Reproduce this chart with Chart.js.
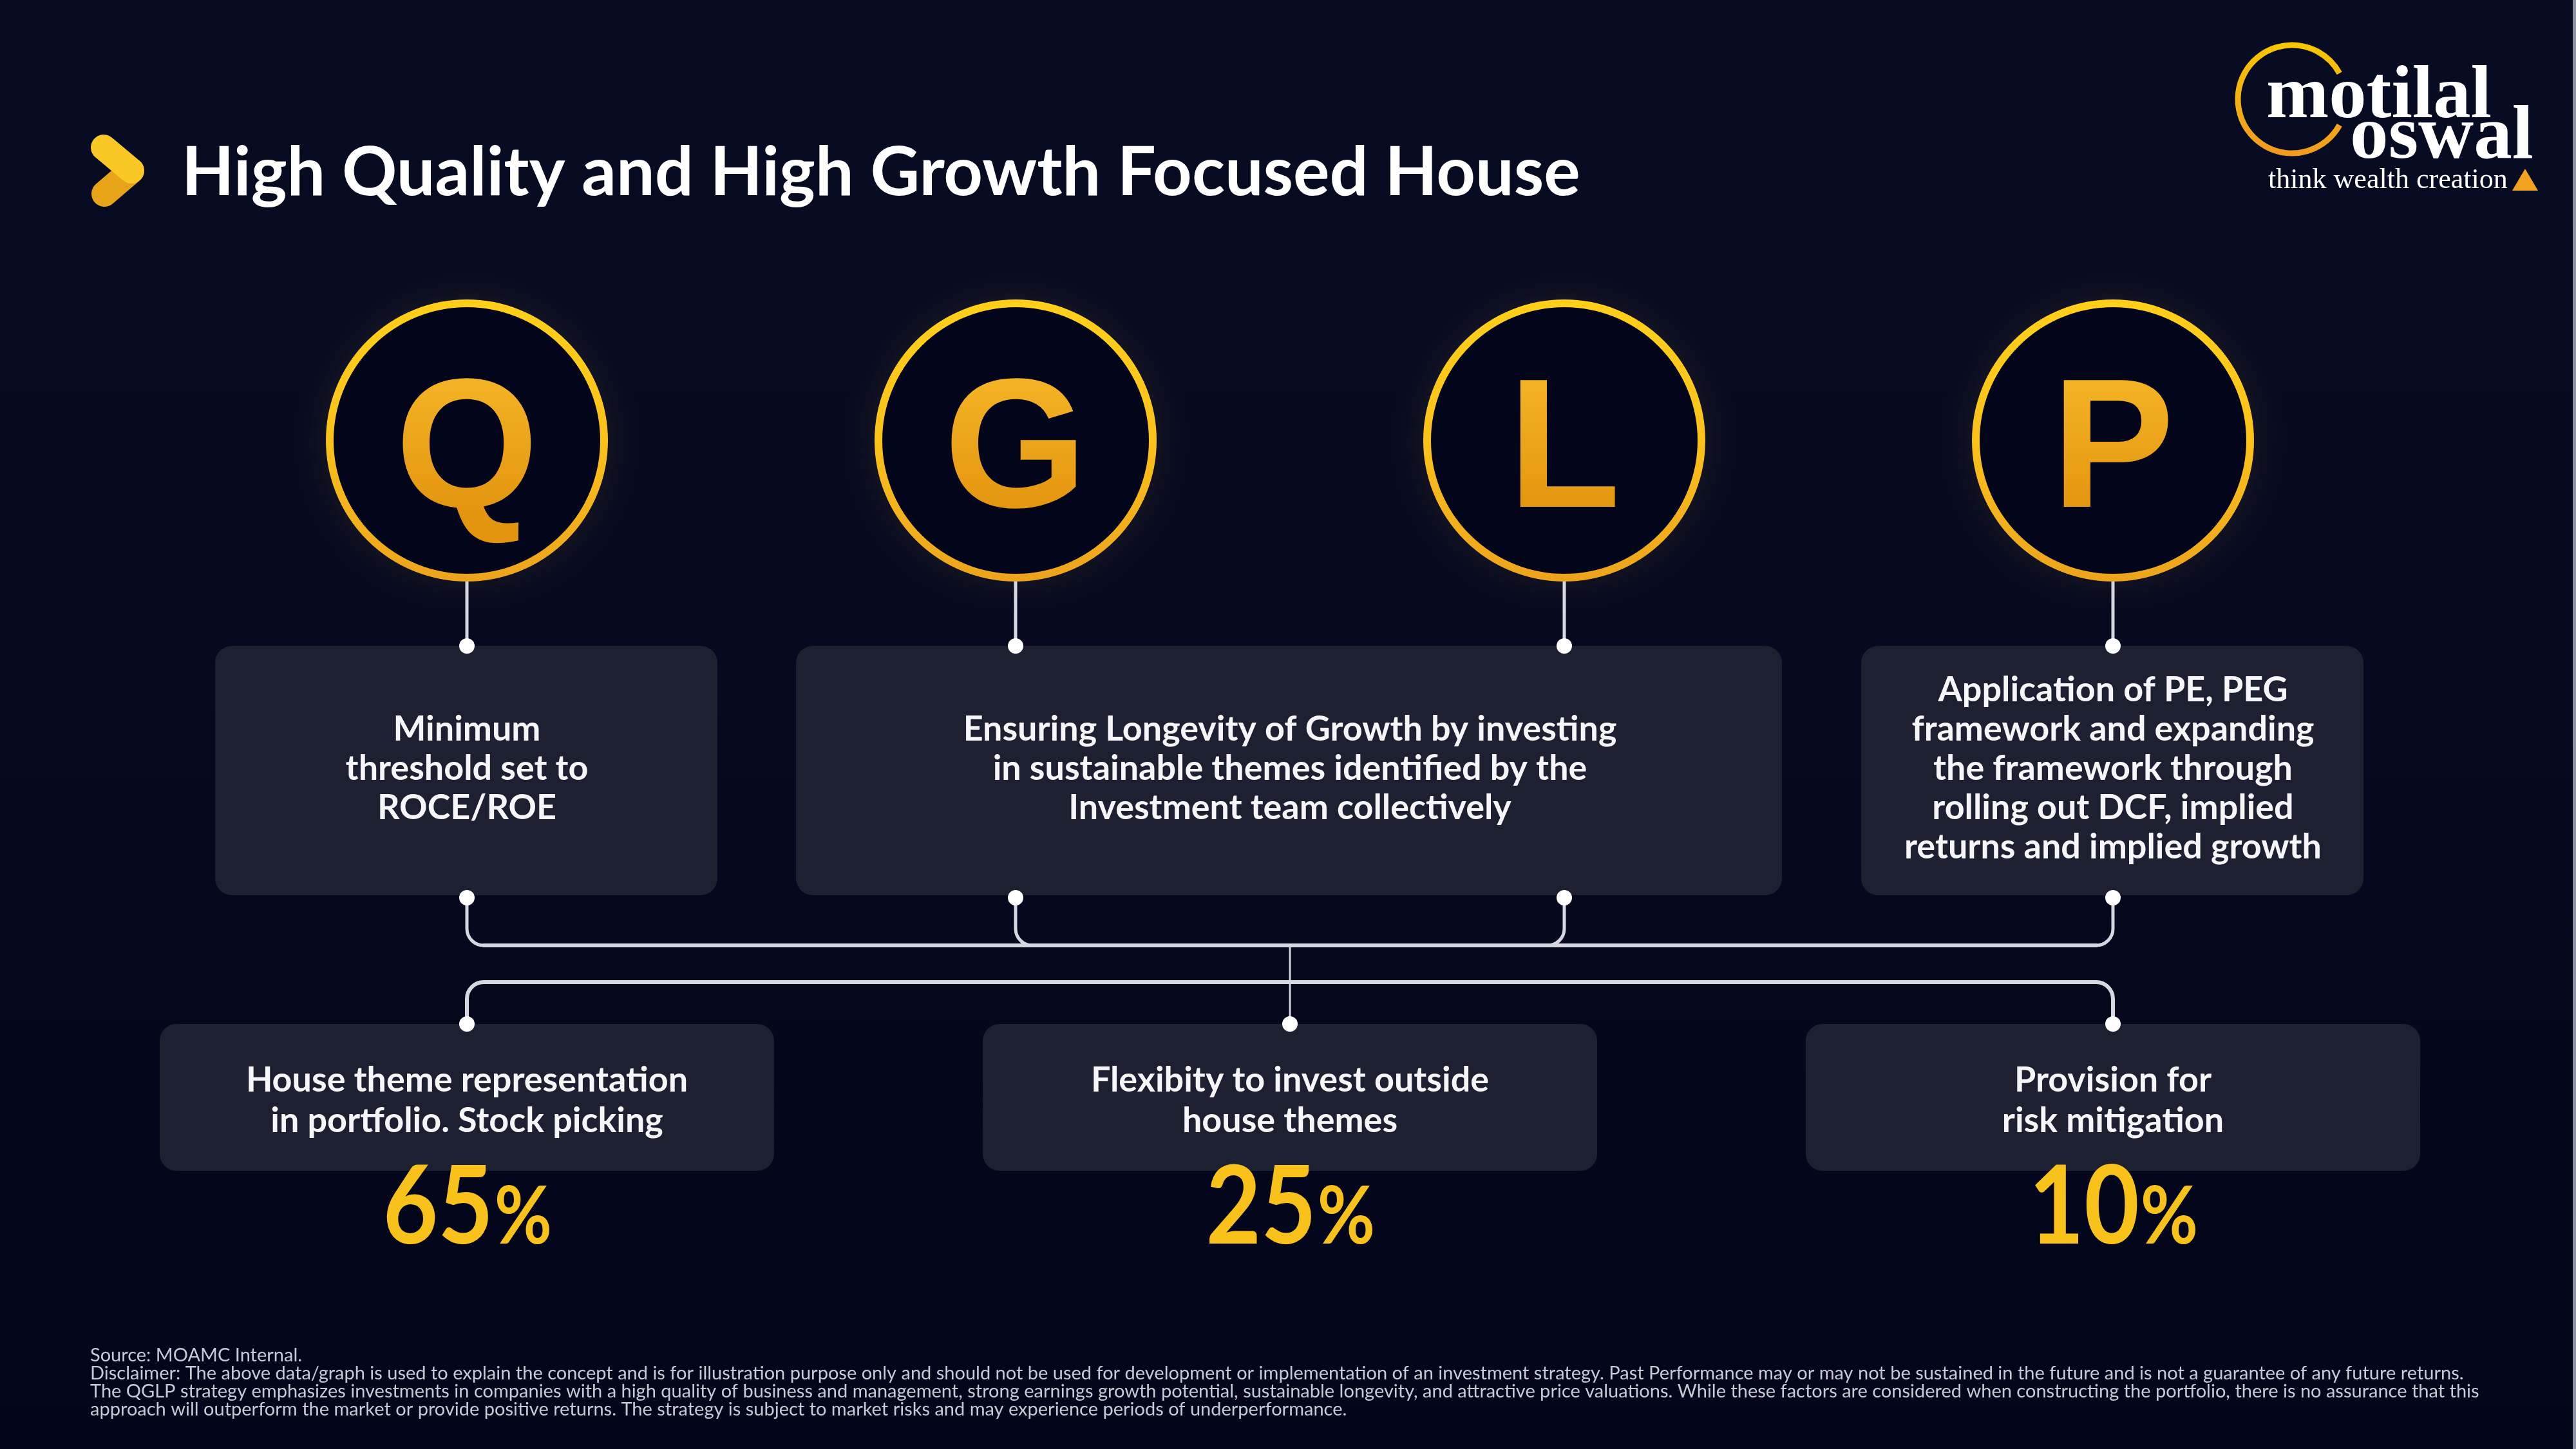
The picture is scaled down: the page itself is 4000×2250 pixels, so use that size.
<!DOCTYPE html>
<html><head><meta charset="utf-8">
<script src="https://cdn.jsdelivr.net/npm/chart.js@4.4.1/dist/chart.umd.min.js"></script>
<style>html,body{margin:0;padding:0;background:#04071a;overflow:hidden}canvas{display:block}</style>
</head><body>
<canvas id="c" width="4000" height="2250"></canvas>
<script>
// ---------- data ----------
const titleText = 'High Quality and High Growth Focused House';
const pillarLetters = ['Q', 'G', 'L', 'P'];
const pillarGroups = [[0], [1, 2], [3]];
const pillarNotes = [
  ['Minimum', 'threshold set to', 'ROCE/ROE'],
  ['Ensuring Longevity of Growth by investing', 'in sustainable themes identified by the', 'Investment team collectively'],
  ['Application of PE, PEG', 'framework and expanding', 'the framework through', 'rolling out DCF, implied', 'returns and implied growth']
];
const allocationLabels = [
  ['House theme representation', 'in portfolio. Stock picking'],
  ['Flexibity to invest outside', 'house themes'],
  ['Provision for', 'risk mitigation']
];
const allocationValues = [65, 25, 10];
const footnotes = [
  'Source: MOAMC Internal.',
  'Disclaimer: The above data/graph is used to explain the concept and is for illustration purpose only and should not be used for development or implementation of an investment strategy. Past Performance may or may not be sustained in the future and is not a guarantee of any future returns.',
  'The QGLP strategy emphasizes investments in companies with a high quality of business and management, strong earnings growth potential, sustainable longevity, and attractive price valuations. While these factors are considered when constructing the portfolio, there is no assurance that this',
  'approach will outperform the market or provide positive returns. The strategy is subject to market risks and may experience periods of underperformance.'
];

// ---------- layout ----------
const W = 4000, H = 2250;
const X0 = 725, STEP = 852;      // pixel of first pillar, pixel spacing between pillars
const RING_Y = 684, RING_R = 213;
const BOX_TOP = 1003, BOX_BOT = 1390;
const BUS1 = 1468, BUS2 = 1525, LOW_TOP = 1590, LOW_BOT = 1818;
const CORNER = 26;
const SANS = 'Lato, "Open Sans", sans-serif';

function rr(ctx, x, y, w, h, r) {
  ctx.beginPath();
  ctx.moveTo(x + r, y); ctx.lineTo(x + w - r, y); ctx.arcTo(x + w, y, x + w, y + r, r);
  ctx.lineTo(x + w, y + h - r); ctx.arcTo(x + w, y + h, x + w - r, y + h, r);
  ctx.lineTo(x + r, y + h); ctx.arcTo(x, y + h, x, y + h - r, r);
  ctx.lineTo(x, y + r); ctx.arcTo(x, y, x + r, y, r); ctx.closePath();
}
function fit(ctx, text, font, target) {
  ctx.font = font.replace('SIZE', '100px');
  return 100 * target / ctx.measureText(text).width;
}

const infographic = {
  id: 'infographic',
  beforeDraw(chart) {
    const ctx = chart.ctx;
    const g = ctx.createLinearGradient(0, 0, 0, H);
    g.addColorStop(0, '#080c23'); g.addColorStop(1, '#03051a');
    ctx.save(); ctx.fillStyle = g; ctx.fillRect(0, 0, W, H);
    ctx.fillStyle = '#8d93a3'; ctx.fillRect(W - 5, 0, 5, H);
    ctx.restore();
  },
  beforeDatasetsDraw(chart) {
    const ctx = chart.ctx, xs = chart.scales.x, ys = chart.scales.y;
    const px = i => xs.getPixelForValue(i);
    const ringY = ys.getPixelForValue(RING_Y);
    ctx.save();
    // title icon
    ctx.lineCap = 'round'; ctx.lineJoin = 'round'; ctx.lineWidth = 40;
    ctx.strokeStyle = '#e8a419';
    ctx.beginPath(); ctx.moveTo(204, 265); ctx.lineTo(162, 301); ctx.stroke();
    ctx.strokeStyle = '#fac825';
    ctx.beginPath(); ctx.moveTo(161, 229); ctx.lineTo(204, 265); ctx.stroke();
    // title
    const ts = fit(ctx, titleText, `bold SIZE ${SANS}`, 2172);
    ctx.font = `bold ${ts}px ${SANS}`;
    ctx.fillStyle = '#ffffff'; ctx.textAlign = 'left'; ctx.textBaseline = 'alphabetic';
    ctx.fillText(titleText, 282, 303);
    // logo
    const lg = ctx.createLinearGradient(0, 70, 0, 240);
    lg.addColorStop(0, '#f8c600'); lg.addColorStop(1, '#f29a1f');
    ctx.strokeStyle = lg; ctx.lineWidth = 9; ctx.lineCap = 'butt';
    ctx.beginPath(); ctx.arc(3559, 154, 84, 0.5, Math.PI * 2 - 0.5); ctx.stroke();
    ctx.fillStyle = '#ffffff';
    const SERIF = '"Liberation Serif", "DejaVu Serif", serif';
    let s = fit(ctx, 'motilal', `bold SIZE ${SERIF}`, 350);
    ctx.font = `bold ${s}px ${SERIF}`; ctx.fillText('motilal', 3519, 182);
    s = fit(ctx, 'oswal', `bold SIZE ${SERIF}`, 285);
    ctx.font = `bold ${s}px ${SERIF}`; ctx.fillText('oswal', 3649, 245);
    s = fit(ctx, 'think wealth creation', `SIZE ${SERIF}`, 372);
    ctx.font = `${s}px ${SERIF}`; ctx.fillText('think wealth creation', 3522, 292);
    ctx.fillStyle = '#f2a21f';
    ctx.beginPath(); ctx.moveTo(3901, 296); ctx.lineTo(3921, 262); ctx.lineTo(3941, 296); ctx.closePath(); ctx.fill();
    // ring glow
    pillarLetters.forEach((l, i) => {
      ctx.save(); ctx.shadowColor = 'rgba(245,180,30,0.45)'; ctx.shadowBlur = 40;
      ctx.strokeStyle = 'rgba(245,185,30,0.6)'; ctx.lineWidth = 8;
      ctx.beginPath(); ctx.arc(px(i), ringY, RING_R, 0, Math.PI * 2); ctx.stroke(); ctx.restore();
    });
    // connectors
    ctx.strokeStyle = '#d5d8e0'; ctx.lineWidth = 5; ctx.lineCap = 'round';
    pillarLetters.forEach((l, i) => {
      ctx.beginPath(); ctx.moveTo(px(i), ringY + RING_R); ctx.lineTo(px(i), BOX_TOP); ctx.stroke();
    });
    const last = pillarLetters.length - 1;
    const mid = (px(0) + px(last)) / 2;
    pillarLetters.forEach((l, i) => {
      const x = px(i), dir = x < mid ? 1 : -1;
      ctx.beginPath(); ctx.moveTo(x, BOX_BOT); ctx.lineTo(x, BUS1 - CORNER);
      ctx.arcTo(x, BUS1, x + dir * CORNER, BUS1, CORNER); ctx.stroke();
    });
    ctx.lineWidth = 6;
    ctx.beginPath(); ctx.moveTo(px(0) + CORNER, BUS1); ctx.lineTo(px(last) - CORNER, BUS1); ctx.stroke();
    ctx.beginPath(); ctx.moveTo(px(0), LOW_TOP); ctx.lineTo(px(0), BUS2 + CORNER);
    ctx.arcTo(px(0), BUS2, px(0) + CORNER, BUS2, CORNER); ctx.lineTo(px(last) - CORNER, BUS2);
    ctx.arcTo(px(last), BUS2, px(last), BUS2 + CORNER, CORNER); ctx.lineTo(px(last), LOW_TOP); ctx.stroke();
    ctx.lineWidth = 3;
    ctx.beginPath(); ctx.moveTo(mid, BUS1); ctx.lineTo(mid, LOW_TOP); ctx.stroke();
    // top boxes
    ctx.fillStyle = '#1c2030';
    pillarGroups.forEach(g => {
      const pad = g.length > 1 ? 341 : 391;
      const l = px(g[0]) - pad, r = px(g[g.length - 1]) + (g.length > 1 ? 338 : 389);
      rr(ctx, l, BOX_TOP, r - l, BOX_BOT - BOX_TOP, 26); ctx.fill();
    });
    // bottom boxes
    allocationValues.forEach((v, k) => {
      const x = xs.getPixelForValue(k * last / (allocationValues.length - 1));
      rr(ctx, x - 477, LOW_TOP, 954, LOW_BOT - LOW_TOP, 26); ctx.fill();
    });
    ctx.restore();
  },
  afterDatasetsDraw(chart) {
    const ctx = chart.ctx, xs = chart.scales.x, ys = chart.scales.y;
    const px = i => xs.getPixelForValue(i);
    const ringY = ys.getPixelForValue(RING_Y);
    const last = pillarLetters.length - 1;
    ctx.save();
    // letters
    ctx.textAlign = 'center'; ctx.textBaseline = 'alphabetic';
    ctx.font = 'bold 286px "Liberation Sans", Arial, sans-serif';
    pillarLetters.forEach((l, i) => {
      const g = ctx.createLinearGradient(0, ringY - 110, 0, ringY + 110);
      g.addColorStop(0, '#f5b526'); g.addColorStop(1, '#e3950f');
      ctx.fillStyle = g;
      ctx.fillText(l, px(i), ringY + 103);
    });
    // box texts
    const fs = fit(ctx, pillarNotes[1][0], `bold SIZE ${SANS}`, 1015);
    ctx.font = `bold ${fs}px ${SANS}`; ctx.fillStyle = '#f6f6f8'; ctx.textBaseline = 'middle';
    pillarGroups.forEach((g, k) => {
      const cx = (px(g[0]) + px(g[g.length - 1])) / 2;
      const lines = pillarNotes[k];
      const cy = (BOX_TOP + BOX_BOT) / 2 - 3;
      lines.forEach((t, j) => ctx.fillText(t, cx, cy + (j - (lines.length - 1) / 2) * 61));
    });
    allocationValues.forEach((v, k) => {
      const x = xs.getPixelForValue(k * last / (allocationValues.length - 1));
      ctx.font = `bold ${fs}px ${SANS}`; ctx.fillStyle = '#f6f6f8'; ctx.textBaseline = 'middle'; ctx.textAlign = 'center';
      allocationLabels[k].forEach((t, j) => ctx.fillText(t, x, 1678 + j * 63));
      // percentage (condensed horizontally to match the narrow face)
      const num = String(v), big = 168, small = 124, sx = 0.88;
      ctx.font = `bold ${big}px ${SANS}`; const wn = ctx.measureText(num).width;
      ctx.font = `bold ${small}px ${SANS}`; const wp = ctx.measureText('%').width;
      ctx.save();
      ctx.translate(x, 1931); ctx.scale(sx, 1);
      const start = -(wn + wp) / 2;
      ctx.fillStyle = '#f8c21b'; ctx.textAlign = 'left'; ctx.textBaseline = 'alphabetic';
      ctx.font = `bold ${big}px ${SANS}`; ctx.fillText(num, start, 0);
      ctx.font = `bold ${small}px ${SANS}`; ctx.fillText('%', start + wn + 2, 0);
      ctx.restore();
    });
    // dots
    ctx.fillStyle = '#ffffff';
    const dot = (x, y) => { ctx.beginPath(); ctx.arc(x, y, 12, 0, Math.PI * 2); ctx.fill(); };
    pillarLetters.forEach((l, i) => { dot(px(i), BOX_TOP); dot(px(i), BOX_BOT + 4); });
    allocationValues.forEach((v, k) => dot(xs.getPixelForValue(k * last / (allocationValues.length - 1)), LOW_TOP));
    // footnotes
    const ff = fit(ctx, footnotes[1], `SIZE ${SANS}`, 3687);
    ctx.font = `${ff}px ${SANS}`; ctx.fillStyle = '#c6cad4'; ctx.textAlign = 'left'; ctx.textBaseline = 'middle';
    footnotes.forEach((t, j) => ctx.fillText(t, 140, 2105 + j * 28));
    ctx.restore();
  }
};

new Chart(document.getElementById('c'), {
  type: 'scatter',
  data: {
    datasets: [{
      label: 'QGLP',
      data: pillarLetters.map((l, i) => ({ x: i, y: RING_Y })),
      pointRadius: RING_R,
      pointHoverRadius: RING_R,
      pointBorderWidth: 12,
      pointBackgroundColor: '#03061a',
      pointBorderColor: (c) => {
        const ch = c.chart;
        if (!ch.chartArea || !c.parsed) return '#f5b81c';
        const y = ch.scales.y.getPixelForValue(c.parsed.y);
        const g = ch.ctx.createLinearGradient(0, y - RING_R, 0, y + RING_R);
        g.addColorStop(0, '#ffcf1a'); g.addColorStop(0.5, '#fbc21a'); g.addColorStop(1, '#eda41c');
        return g;
      }
    }]
  },
  options: {
    responsive: false,
    animation: false,
    devicePixelRatio: 1,
    events: [],
    layout: { padding: 0, autoPadding: false },
    plugins: { legend: { display: false }, tooltip: { enabled: false } },
    scales: {
      x: { type: 'linear', display: false, min: -X0 / STEP, max: (W - X0) / STEP },
      y: { type: 'linear', display: false, min: 0, max: H, reverse: true }
    }
  },
  plugins: [infographic]
});
</script>
</body></html>
